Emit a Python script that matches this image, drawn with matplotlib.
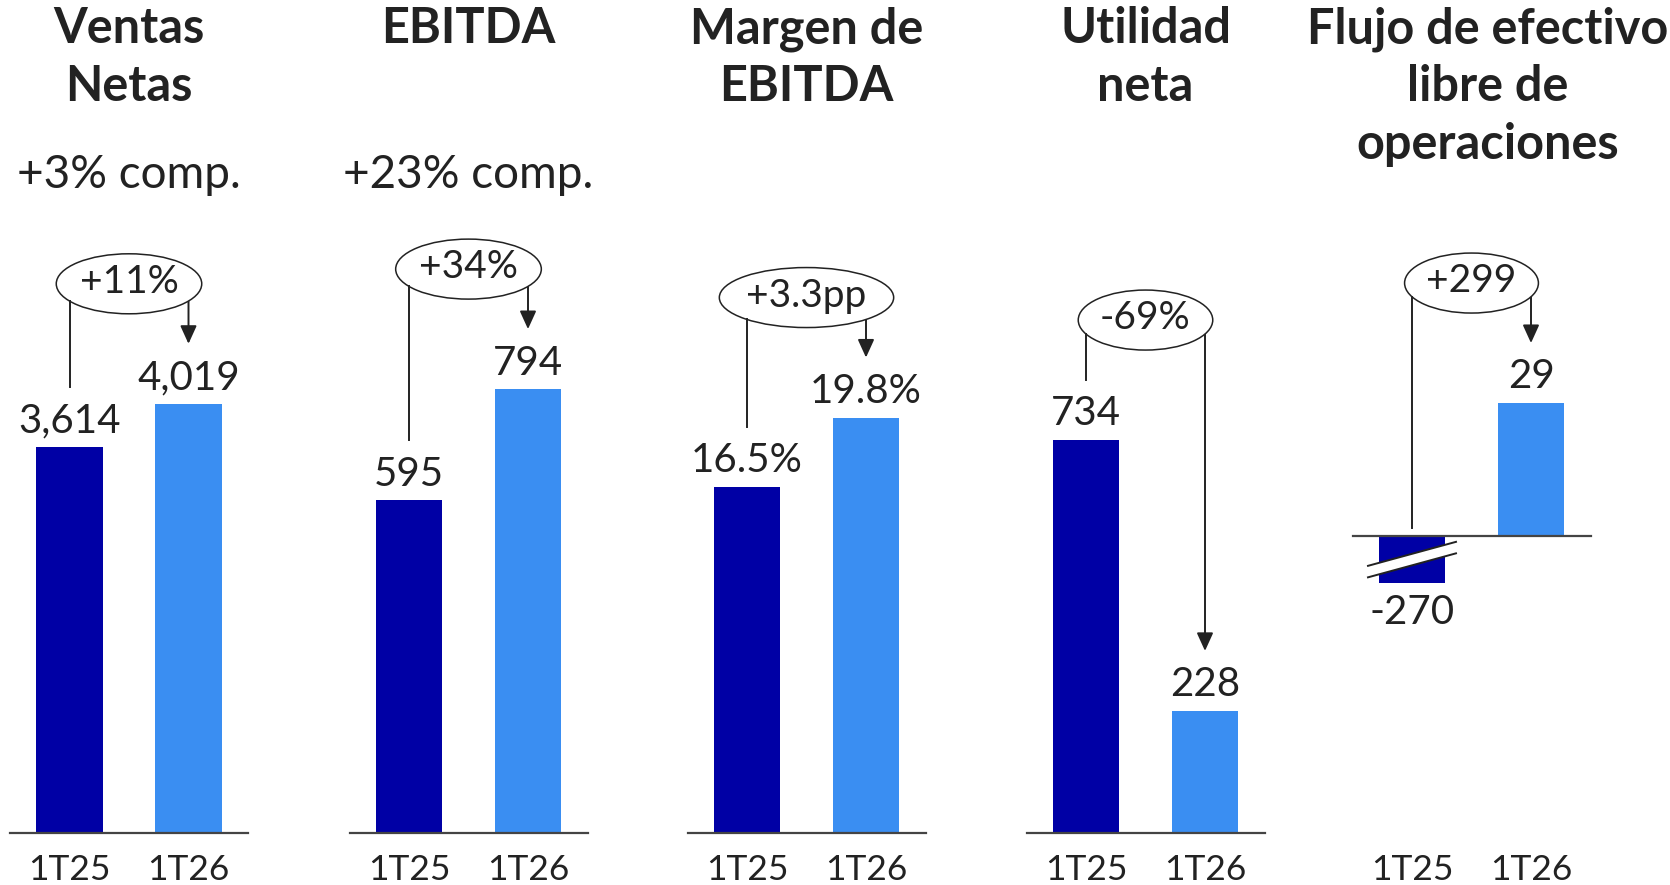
import numpy as np
import matplotlib
matplotlib.use("Agg")
import matplotlib.pyplot as plt
from matplotlib.patches import Ellipse, Polygon
from matplotlib.lines import Line2D
from matplotlib.transforms import IdentityTransform, blended_transform_factory

plt.rcParams["font.family"] = ["Lato", "DejaVu Sans"]

# ---------------- data ----------------
titles = ["Ventas\nNetas", "EBITDA", "Margen de\nEBITDA", "Utilidad\nneta",
          "Flujo de efectivo\nlibre de\noperaciones"]
subtitles = ["+3% comp.", "+23% comp.", "", "", ""]
periods = ["1T25", "1T26"]
values_1t25 = [3614, 595, 16.5, 734, -270]
values_1t26 = [4019, 794, 19.8, 228, 29]
labels_1t25 = ["3,614", "595", "16.5%", "734", "-270"]
labels_1t26 = ["4,019", "794", "19.8%", "228", "29"]
changes = ["+11%", "+34%", "+3.3pp", "-69%", "+299"]
# each panel has its own scale (last one has a broken negative bar)
axis_min = [0, 0, 0, 0, -10.2]
axis_max = [7800, 1490, 39.7, 1556, 116.8]

# ---------------- style / layout ----------------
DARK = "#0000A5"
LIGHT = "#3A8EF2"
TEXT = "#222222"
LINE = "#222222"
AXIS = "#444444"

W, H = 1670, 885
panel_left = [10, 349.5, 687.5, 1026.5, 1352.5]
panel_width = 238
panel_bottom = [833, 833, 833, 833, 583]   # px from top
title_shift = [0, 0, 0, 0, 16]
bar_width = 0.555

fig = plt.figure(figsize=(W / 100, H / 100), dpi=100)
ident = IdentityTransform()
renderer = fig.canvas.get_renderer()

for i in range(len(titles)):
    ax = fig.add_axes([panel_left[i] / W, (H - panel_bottom[i]) / H,
                       panel_width / W, panel_bottom[i] / H])
    ax.set_xlim(-0.5, 1.5)
    ax.set_ylim(axis_min[i], axis_max[i])
    ax.axis("off")

    vals = [values_1t25[i], values_1t26[i]]
    labs = [labels_1t25[i], labels_1t26[i]]
    ax.bar([0, 1], vals, width=bar_width, color=[DARK, LIGHT], zorder=2)
    ax.axhline(0, color=AXIS, lw=1.6, clip_on=False, zorder=3)

    # value labels
    for x, v, lab in zip([0, 1], vals, labs):
        if v >= 0:
            ax.annotate(lab, (x, v), xytext=(0, 10.5), textcoords="offset points",
                        ha="center", va="baseline", fontsize=29, color=TEXT)
        else:
            ax.annotate(lab, (x, axis_min[i]), xytext=(0, -8), textcoords="offset points",
                        ha="center", va="top", fontsize=29, color=TEXT,
                        annotation_clip=False)

    # period labels, all on the same row
    tr = blended_transform_factory(ax.transData, fig.transFigure)
    for x, p in enumerate(periods):
        ax.text(x, 1 - 880 / H, p, transform=tr, ha="center", va="baseline",
                fontsize=25.5, color=TEXT)

    # title and subtitle
    cx_fig = ax.transData.transform((0.5, 0))[0] + title_shift[i]
    for k, line in enumerate(titles[i].split("\n")):
        fig.text(cx_fig / W, 1 - (43 + 58 * k) / H, line, ha="center", va="baseline",
                 fontsize=35, fontweight="bold", color=TEXT)
    if subtitles[i]:
        fig.text(cx_fig / W, 1 - 188 / H, subtitles[i], ha="center", va="baseline",
                 fontsize=33, color=TEXT)

    # change bubble with connectors
    x1, base = ax.transData.transform((0, 0))
    x2 = ax.transData.transform((1, 0))[0]
    top1 = ax.transData.transform((0, max(vals[0], 0)))[1]
    top2 = ax.transData.transform((1, max(vals[1], 0)))[1]
    cx = (x1 + x2) / 2
    cy = max(top1, top2) + 120

    t = fig.text(cx, cy + 2, changes[i], transform=ident, ha="center", va="center",
                 fontsize=28, color=TEXT, zorder=5)
    tw = t.get_window_extent(renderer=renderer).width
    ew = max(1.35 * tw + 12, x2 - x1)
    eh = 60
    fig.add_artist(Ellipse((cx, cy), ew, eh, transform=ident, facecolor="white",
                           edgecolor=LINE, lw=1.1, zorder=4))

    def ell_y(x):
        dx = (x - cx) / (ew / 2)
        return cy - eh / 2 * np.sqrt(max(0.0, 1 - dx ** 2))

    end1 = top1 + 60 if vals[0] > 0 else base + 8
    fig.add_artist(Line2D([x1, x1], [ell_y(x1), end1], transform=ident,
                          color=LINE, lw=1.4, zorder=4))
    ax.annotate("", xy=(x2, top2 + 60), xytext=(x2, ell_y(x2)),
                xycoords="figure pixels", textcoords="figure pixels",
                arrowprops=dict(arrowstyle="-|>,head_length=1.1,head_width=0.5",
                                color=LINE, lw=1.4, shrinkA=0, shrinkB=0),
                annotation_clip=False)

    # axis break on a clipped negative bar
    if vals[0] < axis_min[i]:
        bot = ax.transData.transform((0, axis_min[i]))[1]
        mid = (base + bot) / 2
        hx, dy, gap = 44, 12, 5.75
        xs = [x1 - hx, x1 + hx]
        upper = [mid + gap - dy, mid + gap + dy]
        lower = [mid - gap - dy, mid - gap + dy]
        fig.add_artist(Polygon([(xs[0], upper[0]), (xs[1], upper[1]),
                                (xs[1], lower[1]), (xs[0], lower[0])],
                               closed=True, transform=ident, facecolor="white",
                               edgecolor="none", zorder=4))
        for ys in (upper, lower):
            fig.add_artist(Line2D(xs, ys, transform=ident, color=LINE, lw=1.4, zorder=4))

fig.savefig("out.png", dpi=100)
